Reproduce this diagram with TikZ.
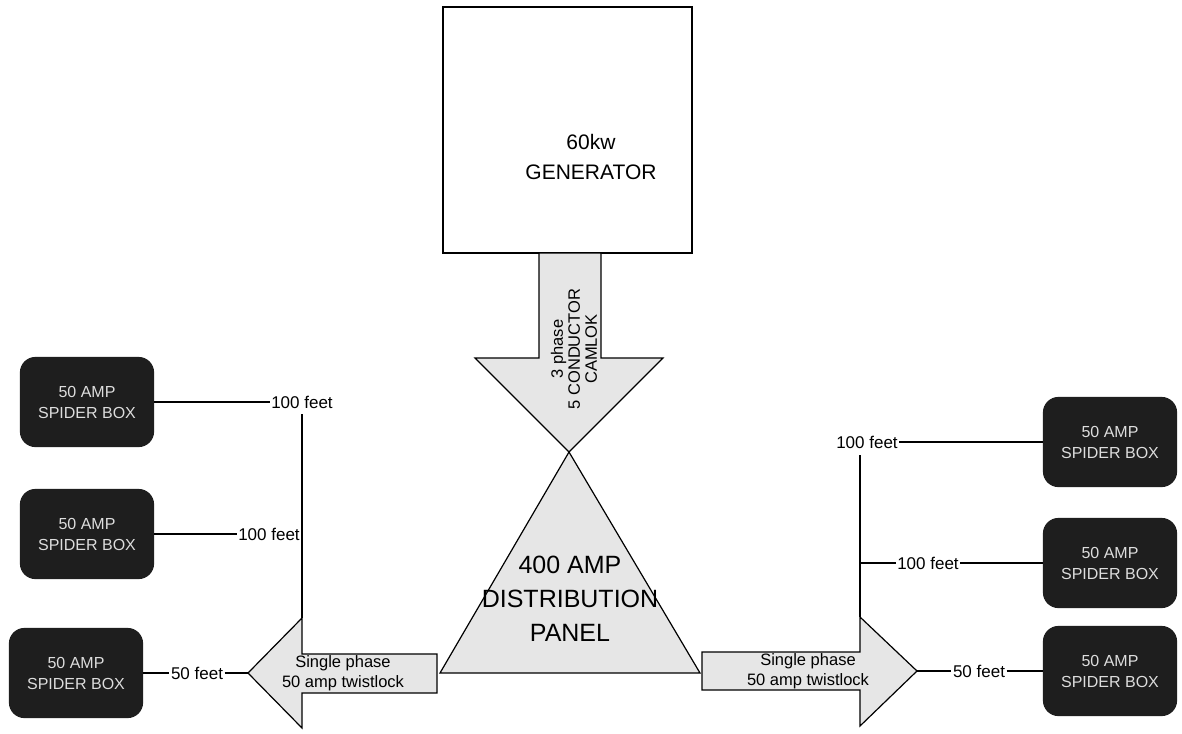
\documentclass[tikz,border=0pt]{standalone}
\usepackage{fontspec}
\setmainfont{Liberation Sans}
\definecolor{boxdark}{HTML}{1E1E1E}
\definecolor{boxtext}{HTML}{DDDDDD}
\definecolor{stipple}{HTML}{E6E6E6}
\begin{document}
\begin{tikzpicture}[x=1pt,y=-1pt,line width=1.2pt,
  genbox/.style={draw,line width=1.2pt,minimum width=249pt,minimum height=246pt,inner sep=0pt},
  spider/.style={draw=boxdark,fill=boxdark,rounded corners=15pt,minimum width=133pt,minimum height=89pt,
    text=boxtext,font=\fontsize{16}{21}\selectfont,align=center,inner sep=0pt},
  lbl/.style={font=\fontsize{17}{19}\selectfont,inner sep=1pt},
  arrowtext/.style={font=\fontsize{16.5}{20}\selectfont,align=center,inner sep=0pt},
  stipshape/.style={draw,fill=stipple,line width=1.2pt,line join=miter}]
\useasboundingbox (0,0) rectangle (1182,733);
% generator
\node[genbox] (gen) at (567.5,130) {};
\node[font=\fontsize{21}{30}\selectfont,align=center] (gentxt) at (591,157) {60kw\\GENERATOR};
% down arrow
\path[stipshape] (539,253) -- (539,358) -- (475,358) -- (569,452) -- (663,358) -- (601,358) -- (601,253) -- cycle;
\node[arrowtext,rotate=90,font=\fontsize{16.5}{17}\selectfont] (camlok) at (574,349) {3 phase\\5 CONDUCTOR\\CAMLOK};
% panel triangle
\path[stipshape] (569,452) -- (440,673) -- (700,673) -- cycle;
\node[font=\fontsize{25}{34}\selectfont,align=center] (panel) at (570,599) {400 AMP\\DISTRIBUTION\\PANEL};
% left arrow
\path[stipshape] (437,654) -- (302,654) -- (302,618) -- (248,673) -- (302,728) -- (302,693) -- (437,693) -- cycle;
\node[arrowtext] (ltxt) at (343,673) {Single phase\\50 amp twistlock};
% right arrow
\path[stipshape] (702,652) -- (860,652) -- (860,617) -- (917,671) -- (860,726) -- (860,690) -- (702,690) -- cycle;
\node[arrowtext] (rtxt) at (808,671) {Single phase\\50 amp twistlock};
\coordinate (ltip) at (248,673);
\coordinate (lhead) at (302,618);
\coordinate (rtip) at (917,671);
\coordinate (rhead) at (860,617);
\coordinate (rtop) at (860,455);
\coordinate (rmid) at (860,563);
% spider boxes left
\node[spider] (sl1) at (87,402) {50 AMP\\SPIDER BOX};
\node[spider] (sl2) at (87,534) {50 AMP\\SPIDER BOX};
\node[spider] (sl3) at (76,673) {50 AMP\\SPIDER BOX};
% spider boxes right
\node[spider] (sr1) at (1110,442) {50 AMP\\SPIDER BOX};
\node[spider] (sr2) at (1110,563) {50 AMP\\SPIDER BOX};
\node[spider] (sr3) at (1110,671) {50 AMP\\SPIDER BOX};
% labels
\node[lbl] (ll1) at (302,402) {100 feet};
\node[lbl] (ll2) at (269,534) {100 feet};
\node[lbl] (ll3) at (197,673) {50 feet};
\node[lbl] (lr1) at (867,442) {100 feet};
\node[lbl] (lr2) at (928,563) {100 feet};
\node[lbl] (lr3) at (979,671) {50 feet};
\coordinate (ltop) at (302,414);
% connectors
\draw (sl1.east) -- (ll1.west);
\draw (ltop) -- (lhead);
\draw (sl2.east) -- (ll2.west);
\draw (sl3.east) -- (ll3.west);
\draw (ll3.east) -- (ltip);
\draw (lr1.east) -- (sr1.west);
\draw (rtop) -- (rhead);
\draw (rmid) -- (lr2.west);
\draw (lr2.east) -- (sr2.west);
\draw (rtip) -- (lr3.west);
\draw (lr3.east) -- (sr3.west);
\end{tikzpicture}
\end{document}
